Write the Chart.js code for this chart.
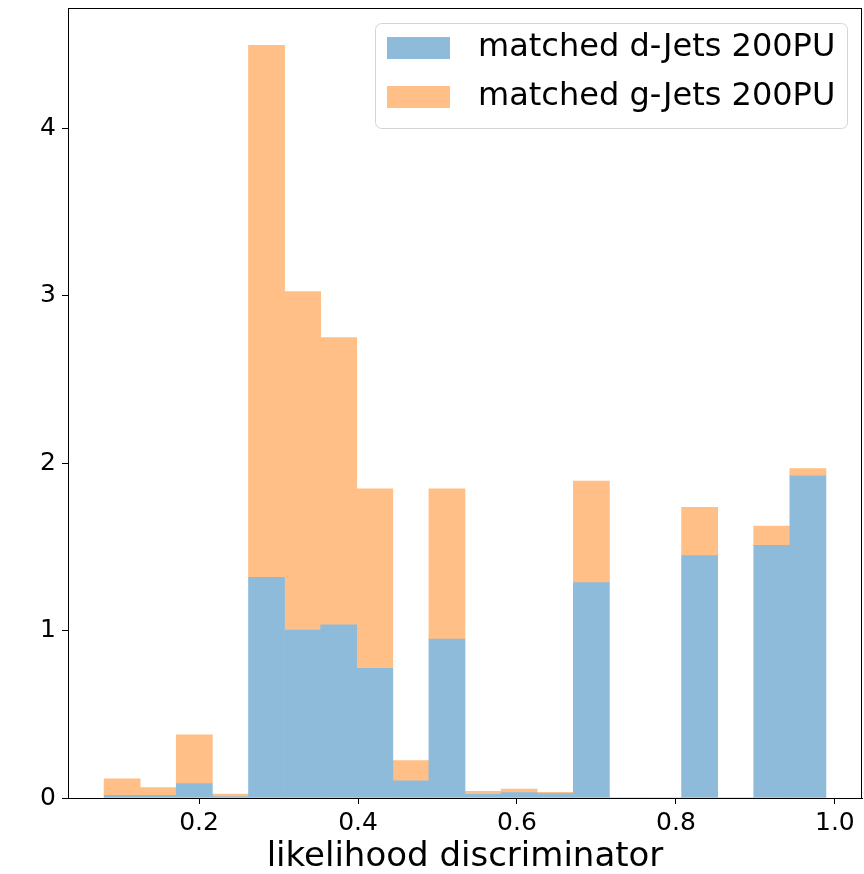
<!DOCTYPE html>
<html lang="en">
<head>
  <meta charset="UTF-8">
  <title>likelihood discriminator</title>
  <script src="https://cdn.jsdelivr.net/npm/chart.js"></script>
  <style>
    body { margin: 0; background: #fff; }
    #wrap { width: 864px; height: 874px; }
  </style>
</head>
<body>
  <div id="wrap">
    <canvas id="histChart"></canvas>
  </div>

  <script>
    // bin centres of the histogram (20 bins, width ~0.0454)
    var binCenters = [0.1032, 0.1486, 0.1940, 0.2394, 0.2849, 0.3303, 0.3757, 0.4211, 0.4665, 0.5119,
                      0.5573, 0.6027, 0.6482, 0.6936, 0.7390, 0.7844, 0.8298, 0.8752, 0.9206, 0.9660];

    // d-jets (bottom of the stack)
    var dJets = [0.016, 0.016, 0.086, 0.008, 1.319, 1.004, 1.034, 0.775, 0.102, 0.950,
                 0.022, 0.032, 0.026, 1.287, 0, 0, 1.448, 0, 1.510, 1.925];

    // g-jets (stacked on top of d-jets)
    var gJets = [0.099, 0.046, 0.291, 0.016, 3.178, 2.022, 1.717, 1.072, 0.121, 0.897,
                 0.018, 0.022, 0.008, 0.606, 0, 0, 0.289, 0, 0.114, 0.043];

    var labels = ["matched d-Jets 200PU", "matched g-Jets 200PU"];
    var xTicks = [0.2, 0.4, 0.6, 0.8, 1.0];
    var yTicks = [0, 1, 2, 3, 4];

    // tab:blue / tab:orange at alpha 0.5 over white
    var blue = "rgb(143, 187, 218)";
    var orange = "rgb(255, 191, 134)";

    function toPoints(values) {
      return values.map(function (v, i) {
        return { x: binCenters[i], y: v };
      });
    }

    // frame around the plot area
    var framePlugin = {
      id: "frame",
      afterDraw: function (chart) {
        var a = chart.chartArea;
        var ctx = chart.ctx;
        ctx.save();
        ctx.strokeStyle = "#000";
        ctx.lineWidth = 1;
        ctx.strokeRect(a.left + 0.5, a.top + 0.5, a.right - a.left - 1, a.bottom - a.top);
        ctx.restore();
      }
    };

    // matplotlib-like legend in the upper right corner
    var legendPlugin = {
      id: "innerLegend",
      afterDraw: function (chart) {
        var ctx = chart.ctx;
        var x = 375, y = 23, w = 472, h = 105, r = 6;
        ctx.save();
        ctx.fillStyle = "rgba(255,255,255,0.8)";
        ctx.strokeStyle = "#d4d4d4";
        ctx.lineWidth = 1;
        ctx.beginPath();
        ctx.roundRect(x + 0.5, y + 0.5, w, h, r);
        ctx.fill();
        ctx.stroke();

        ctx.font = "32px 'DejaVu Sans'";
        ctx.textBaseline = "middle";
        ctx.textAlign = "left";
        var rows = [48, 97];
        chart.data.datasets.forEach(function (ds, i) {
          ctx.fillStyle = ds.backgroundColor;
          ctx.fillRect(387, rows[i] - 11, 63, 22);
          ctx.fillStyle = "#000";
          ctx.fillText(ds.label, 478, rows[i]);
        });
        ctx.restore();
      }
    };

    var ctx = document.getElementById("histChart").getContext("2d");

    new Chart(ctx, {
      type: "bar",
      data: {
        datasets: [
          { label: labels[0], data: toPoints(dJets), backgroundColor: blue, borderWidth: 0 },
          { label: labels[1], data: toPoints(gJets), backgroundColor: orange, borderWidth: 0 }
        ]
      },
      options: {
        responsive: true,
        maintainAspectRatio: false,
        animation: false,
        barPercentage: 1,
        categoryPercentage: 1,
        layout: { padding: { left: 0, right: 2, top: 8, bottom: 0 } },
        plugins: {
          legend: { display: false },
          tooltip: { enabled: false }
        },
        scales: {
          x: {
            type: "linear",
            stacked: true,
            offset: false,
            min: 0.0351,
            max: 1.0341,
            afterFit: function (scale) {
              scale.height = 76;
              scale.paddingLeft = 0;
              scale.paddingRight = 0;
            },
            afterBuildTicks: function (scale) {
              scale.ticks = xTicks.map(function (v) { return { value: v }; });
            },
            ticks: {
              color: "#000",
              font: { family: "'DejaVu Sans'", size: 25 },
              padding: 4,
              maxRotation: 0,
              callback: function (v) { return v.toFixed(1); }
            },
            grid: { offset: false, drawOnChartArea: false, drawTicks: true, tickLength: 6, color: "#000" },
            border: { color: "#000", width: 1 },
            title: {
              display: true,
              text: "likelihood discriminator",
              color: "#000",
              font: { family: "'DejaVu Sans'", size: 34, lineHeight: 1.0 },
              padding: { top: 0, bottom: 0 }
            }
          },
          y: {
            stacked: true,
            min: 0,
            max: 4.72,
            afterFit: function (scale) {
              scale.width = 68;
              scale.paddingTop = 0;
              scale.paddingBottom = 0;
            },
            afterBuildTicks: function (scale) {
              scale.ticks = yTicks.map(function (v) { return { value: v }; });
            },
            ticks: {
              color: "#000",
              font: { family: "'DejaVu Sans'", size: 25 },
              padding: 6
            },
            grid: { drawOnChartArea: false, drawTicks: true, tickLength: 6, color: "#000" },
            border: { color: "#000", width: 1 }
          }
        }
      },
      plugins: [framePlugin, legendPlugin]
    });
  </script>
</body>
</html>
